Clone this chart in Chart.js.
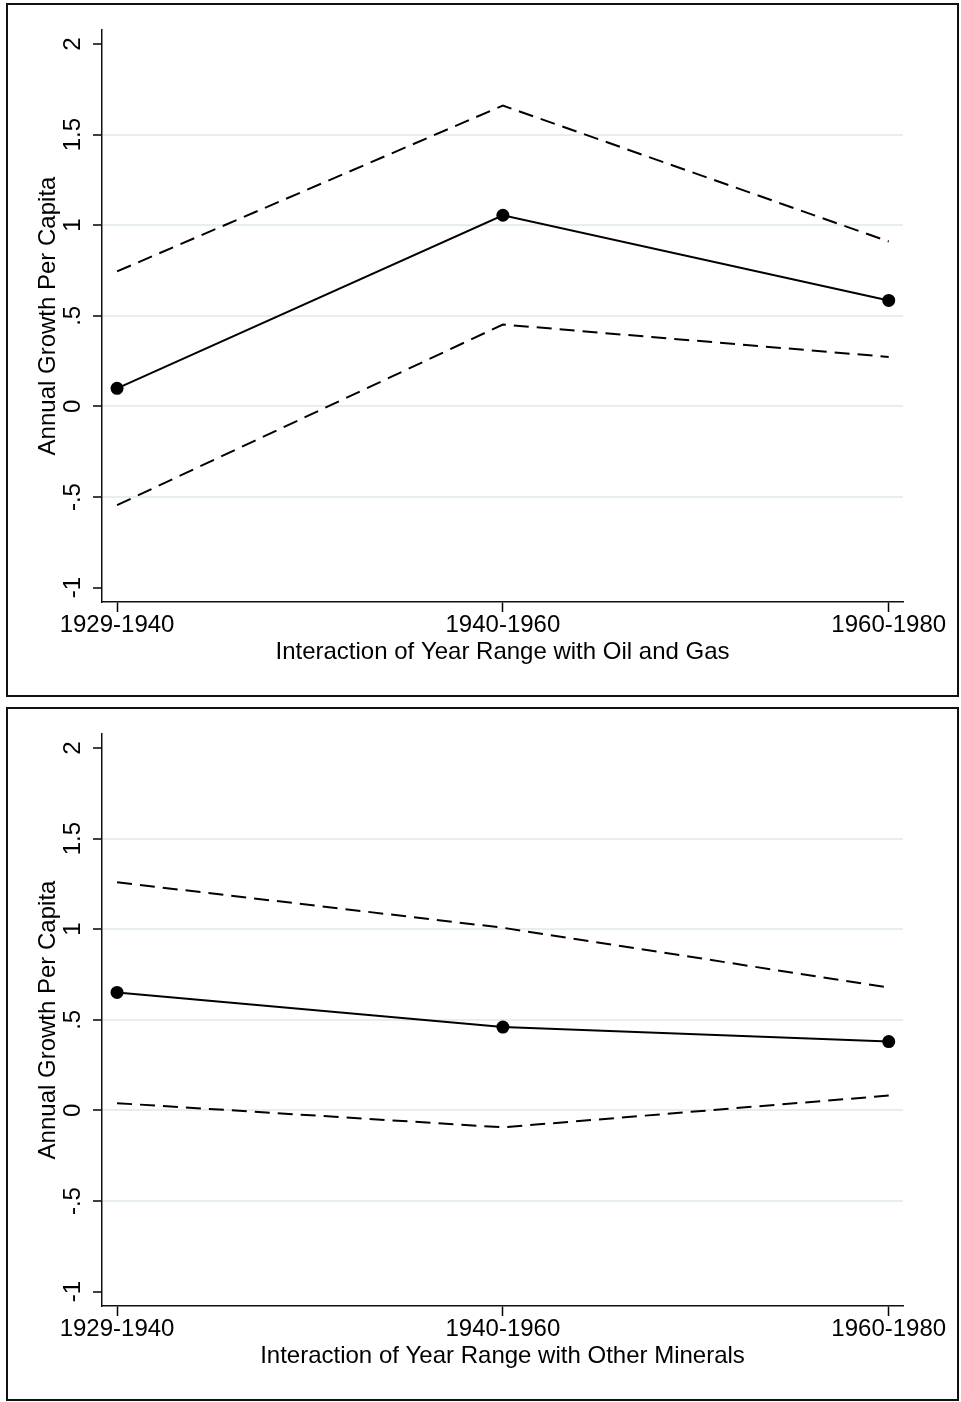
<!DOCTYPE html>
<html>
<head>
<meta charset="utf-8">
<script src="https://cdn.jsdelivr.net/npm/chart.js@4/dist/chart.umd.min.js"></script>
<style>
    body { margin: 0; background: #fff; }
    .panel {
        position: absolute;
        left: 6px;
        width: 949px;
        height: 690px;
        border: 2px solid #111;
    }
    #panelTop { top: 3px; }
    #panelBottom { top: 707px; }
    canvas { display: block; }
</style>
</head>
<body>
<div class="panel" id="panelTop"><canvas id="oilGasChart" width="949" height="690"></canvas></div>
<div class="panel" id="panelBottom"><canvas id="mineralsChart" width="949" height="690"></canvas></div>

<script>
// Year ranges on the x axis
const periods = ['1929-1940', '1940-1960', '1960-1980'];

// Oil and gas: point estimate and confidence bounds
const oilGasEst = [0.10, 1.055, 0.585];
const oilGasUpper = [0.745, 1.66, 0.91];
const oilGasLower = [-0.545, 0.452, 0.273];

// Other minerals: point estimate and confidence bounds
const mineralsEst = [0.651, 0.46, 0.38];
const mineralsUpper = [1.259, 1.008, 0.678];
const mineralsLower = [0.04, -0.093, 0.082];

// Y axis ticks (Stata style labels)
const yTickValues = [-1, -0.5, 0, 0.5, 1, 1.5, 2];
const yTickLabels = ['-1', '-.5', '0', '.5', '1', '1.5', '2'];

const FONT = "'Liberation Sans', Arial, Helvetica, sans-serif";

Chart.defaults.color = '#000';
Chart.defaults.font.family = FONT;
Chart.defaults.font.size = 24;

function toPoints(values) {
    return values.map((v, i) => ({ x: i, y: v }));
}

function bandLine(values) {
    return {
        data: toPoints(values),
        borderColor: '#000',
        borderWidth: 2,
        borderDash: [15, 8],
        borderCapStyle: 'butt',
        pointRadius: 0,
        fill: false,
        tension: 0
    };
}

function buildChart(canvasId, est, upper, lower, xTitle) {
    const ctx = document.getElementById(canvasId);
    return new Chart(ctx, {
        type: 'line',
        data: {
            datasets: [
                bandLine(upper),
                bandLine(lower),
                {
                    data: toPoints(est),
                    borderColor: '#000',
                    borderWidth: 2,
                    pointRadius: 6.5,
                    pointBackgroundColor: '#000',
                    pointBorderWidth: 0,
                    fill: false,
                    tension: 0
                }
            ]
        },
        options: {
            responsive: false,
            animation: false,
            devicePixelRatio: 1,
            layout: { padding: { left: 0, right: 54, top: 25, bottom: 0 } },
            plugins: {
                legend: { display: false },
                tooltip: { enabled: false }
            },
            scales: {
                x: {
                    type: 'linear',
                    min: -0.039,
                    max: 2.037,
                    bounds: 'data',
                    afterBuildTicks: s => { s.ticks = periods.map((p, i) => ({ value: i })); },
                    afterFit: s => { s.height = 93; },
                    ticks: {
                        autoSkip: false,
                        maxRotation: 0,
                        padding: 0,
                        font: { size: 24, lineHeight: 1.1 },
                        callback: v => periods[v]
                    },
                    grid: {
                        drawOnChartArea: false,
                        drawTicks: true,
                        tickLength: 10,
                        tickColor: '#000',
                        tickWidth: 1.5
                    },
                    border: { display: true, color: '#111', width: 1.5 },
                    title: {
                        display: true,
                        text: xTitle,
                        font: { size: 24, lineHeight: 1.2 },
                        padding: { top: 0, bottom: 28 }
                    }
                },
                y: {
                    type: 'linear',
                    min: -1.079,
                    max: 2.077,
                    bounds: 'data',
                    afterBuildTicks: s => { s.ticks = yTickValues.map(v => ({ value: v })); },
                    afterFit: s => { s.width = 94; },
                    ticks: {
                        autoSkip: false,
                        minRotation: 90,
                        maxRotation: 90,
                        crossAlign: 'center',
                        padding: 3,
                        font: { size: 24 },
                        callback: v => yTickLabels[yTickValues.indexOf(v)]
                    },
                    grid: {
                        color: c => (c.tick && (c.tick.value === 2 || c.tick.value === -1)) ? 'rgba(0,0,0,0)' : '#e6eef0',
                        lineWidth: 2,
                        drawTicks: true,
                        tickLength: 9,
                        tickColor: '#000',
                        tickWidth: 1.5
                    },
                    border: { display: true, color: '#111', width: 1.5 },
                    title: {
                        display: true,
                        text: 'Annual Growth Per Capita',
                        font: { size: 24, lineHeight: 1.2 },
                        padding: { top: 26, bottom: 0 }
                    }
                }
            }
        }
    });
}

buildChart('oilGasChart', oilGasEst, oilGasUpper, oilGasLower, 'Interaction of Year Range with Oil and Gas');
buildChart('mineralsChart', mineralsEst, mineralsUpper, mineralsLower, 'Interaction of Year Range with Other Minerals');
</script>
</body>
</html>
